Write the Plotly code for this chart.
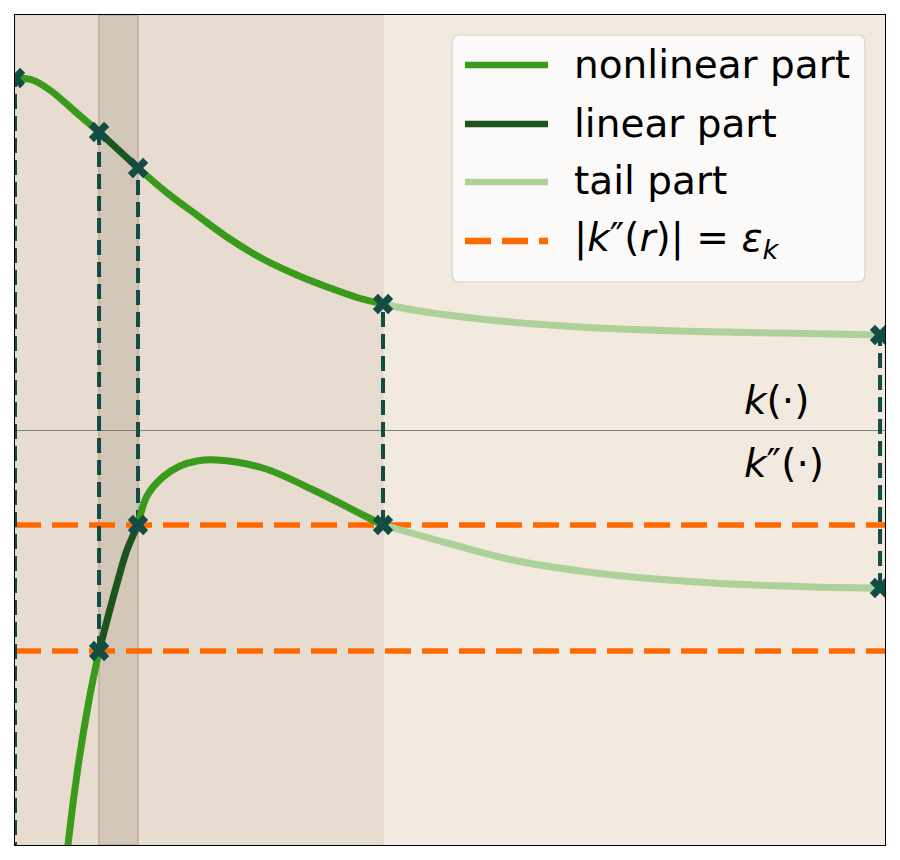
import plotly.graph_objects as go

# upper curve k(r)
r_k = [0.0, 0.2, 0.40, 0.71, 0.966, 1.414, 1.75, 2.09, 2.47, 2.85, 3.24, 3.62, 3.95, 4.23,
       4.58, 5.35, 6.49, 7.64, 8.79, 9.943]
k_vals = [3.52, 3.50, 3.40, 3.17, 2.98, 2.62, 2.37, 2.15, 1.91, 1.71, 1.55, 1.42, 1.32, 1.26,
          1.20, 1.11, 1.03, 0.99, 0.97, 0.95]

# lower curve k''(r)
r_k2 = [0.55, 0.609, 0.724, 0.851, 0.966, 1.08, 1.184, 1.287, 1.414, 1.517,
        1.70, 1.897, 2.09, 2.32, 2.85, 3.43, 4.0, 4.23,
        4.97, 5.72, 6.87, 8.02, 9.17, 9.943]
k2_vals = [-4.7, -4.15, -3.37, -2.70, -2.21, -1.83, -1.50, -1.20, -0.95, -0.66,
           -0.47, -0.36, -0.31, -0.30, -0.38, -0.60, -0.85, -0.95,
           -1.13, -1.30, -1.45, -1.53, -1.57, -1.58]

bounds = [0.0, 0.966, 1.414, 4.23, 9.943]   # segment limits / markers
eps_levels = [-0.95, -2.21]                 # |k''(r)| = eps_k

X_MIN, X_MAX = 0, 10
Y_MIN, Y_MAX = -4.15, 4.15

NONLIN = "#3a9a1c"
LIN = "#1c541c"
TAIL = "#acd19a"
MARK = "#134b45"
ORANGE = "#ff6a00"
FONT = "DejaVu Sans"

# page is shown with an 8px body margin
W, H = 892, 852
ML, MR, MT, MB = 7, 15, 7, 15
PW, PH = W - ML - MR, H - MT - MB
PAGE_L, PAGE_B = 15, 845   # plot area edges in page pixels


def px(x):
    return (x - PAGE_L) / PW


def py(y):
    return (PAGE_B - y) / PH


def seg(rs, vs, a, b):
    pts = [(r, v) for r, v in zip(rs, vs) if a <= r <= b]
    return [p[0] for p in pts], [p[1] for p in pts]


fig = go.Figure()

# eps levels
for e in eps_levels:
    fig.add_trace(go.Scatter(x=[X_MIN, X_MAX], y=[e, e], mode="lines",
                             line=dict(color=ORANGE, width=5.5, dash="26px,11px"),
                             showlegend=False, hoverinfo="skip"))

# vertical dashed connectors
for b in bounds:
    top = k_vals[r_k.index(b)]
    bot = k2_vals[r_k2.index(b)] if b in r_k2 else Y_MIN - 1
    fig.add_trace(go.Scatter(x=[b, b], y=[bot, top], mode="lines",
                             line=dict(color=MARK, width=4, dash="15px,7px"),
                             showlegend=False, hoverinfo="skip"))

# curves split into parts
parts = [(bounds[0], bounds[1], NONLIN), (bounds[1], bounds[2], LIN),
         (bounds[2], bounds[3], NONLIN), (bounds[3], bounds[4], TAIL)]
for rs, vs in [(r_k, k_vals), (r_k2, k2_vals)]:
    for a, b, c in parts:
        a2 = min(rs) if a == bounds[0] else a
        xs, ys = seg(rs, vs, a2, b)
        fig.add_trace(go.Scatter(x=xs, y=ys, mode="lines",
                                 line=dict(color=c, width=7, shape="spline", smoothing=1.0),
                                 showlegend=False, hoverinfo="skip"))

# markers
mx, my = [], []
for b in bounds:
    mx.append(b)
    my.append(k_vals[r_k.index(b)])
    if b in r_k2:
        mx.append(b)
        my.append(k2_vals[r_k2.index(b)])
fig.add_trace(go.Scatter(x=mx, y=my, mode="markers",
                         marker=dict(symbol="x", size=18, color=MARK, line=dict(width=0)),
                         showlegend=False, hoverinfo="skip"))

shapes = [
    dict(type="rect", xref="x", yref="paper", x0=bounds[0], x1=bounds[3], y0=0, y1=1,
         fillcolor="#e7dccf", line=dict(color="#e2d5c4", width=1), layer="below"),
    dict(type="rect", xref="x", yref="paper", x0=bounds[1], x1=bounds[2], y0=0, y1=1,
         fillcolor="#d2c7b9", line=dict(color="#bfae9a", width=1.5), layer="below"),
]

# legend box (rounded)
x0, x1, y0, y1 = px(452), px(865), py(282), py(35)
rx, ry = 8 / PW, 8 / PH
path = (f"M {x0+rx},{y0} L {x1-rx},{y0} Q {x1},{y0} {x1},{y0+ry} "
        f"L {x1},{y1-ry} Q {x1},{y1} {x1-rx},{y1} L {x0+rx},{y1} "
        f"Q {x0},{y1} {x0},{y1-ry} L {x0},{y0+ry} Q {x0},{y0} {x0+rx},{y0} Z")
shapes.append(dict(type="path", xref="paper", yref="paper", path=path,
                   fillcolor="#fbfaf8", line=dict(color="#d6d3cf", width=1.2), layer="above"))

leg_items = [
    ("nonlinear part", NONLIN, "solid"),
    ("linear part", LIN, "solid"),
    ("tail part", TAIL, "solid"),
    ("|<i>k</i>″(<i>r</i>)| = <i>ε</i><sub><i>k</i></sub>", ORANGE, "26px,11px"),
]
rows = [65, 124, 182, 241]
annotations = []
for (label, c, d), yy in zip(leg_items, rows):
    shapes.append(dict(type="line", xref="paper", yref="paper",
                       x0=px(465), x1=px(548), y0=py(yy), y1=py(yy),
                       line=dict(color=c, width=6.5, dash=d), layer="above"))
    annotations.append(dict(xref="paper", yref="paper", x=px(572), y=py(yy - 1),
                            text=label, showarrow=False, xanchor="left", yanchor="middle",
                            font=dict(family=FONT, size=39, color="black")))

annotations.append(dict(x=8.36, y=0.30, text="<i>k</i>(·)", showarrow=False,
                        xanchor="left", yanchor="middle",
                        font=dict(family=FONT, size=39, color="black")))
annotations.append(dict(x=8.36, y=-0.33, text="<i>k</i>″(·)", showarrow=False,
                        xanchor="left", yanchor="middle",
                        font=dict(family=FONT, size=39, color="black")))

fig.update_layout(
    width=W, height=H,
    margin=dict(l=ML, r=MR, t=MT, b=MB),
    paper_bgcolor="white",
    plot_bgcolor="#f2eadf",
    shapes=shapes,
    annotations=annotations,
    showlegend=False,
    xaxis=dict(range=[X_MIN, X_MAX], showgrid=False, zeroline=False, showticklabels=False,
               ticks="", showline=True, mirror=True, linecolor="black", linewidth=1.2),
    yaxis=dict(range=[Y_MIN, Y_MAX], showgrid=False, zeroline=True, zerolinecolor="#7f7f7f",
               zerolinewidth=1, showticklabels=False, ticks="", showline=True, mirror=True,
               linecolor="black", linewidth=1.2),
)

fig.write_html("out.html")
